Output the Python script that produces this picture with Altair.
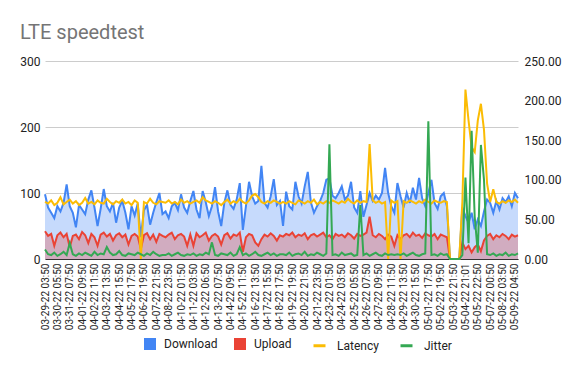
import json
import altair as alt
import pandas as pd

labels = [
    "03-29-22 03:50", "03-30-22 05:50", "03-31-22 07:50", "04-01-22 09:50", "04-02-22 11:50",
    "04-03-22 13:50", "04-04-22 15:50", "04-05-22 17:50", "04-06-22 19:50", "04-07-22 21:50",
    "04-08-22 23:50", "04-10-22 01:50", "04-11-22 03:50", "04-12-22 06:50", "04-13-22 07:50",
    "04-14-22 09:50", "04-15-22 11:50", "04-16-22 13:50", "04-17-22 15:50", "04-18-22 17:50",
    "04-19-22 19:50", "04-20-22 21:50", "04-21-22 23:50", "04-23-22 01:50", "04-24-22 03:50",
    "04-25-22 05:50", "04-26-22 07:50", "04-27-22 09:50", "04-28-22 11:50", "04-29-22 13:50",
    "04-30-22 15:50", "05-01-22 17:50", "05-02-22 19:50", "05-03-22 21:50", "05-04-22 21:01",
    "05-05-22 22:50", "05-07-22 00:50", "05-08-22 03:50", "05-09-22 04:50",
]

download = [
    98, 78, 70, 62, 80, 72, 85, 113, 80, 70, 48, 82, 75, 68, 90, 104, 78, 50, 76, 106,
    80, 72, 85, 55, 78, 88, 70, 45, 80, 66, 84, 33, 74, 82, 52, 70, 86, 100, 68,
    72, 62, 80, 85, 74, 98, 78, 70, 88, 103, 75, 62, 103, 86, 65, 80, 109, 72, 50, 85,
    104, 82, 76, 90, 115, 44, 80, 117, 95, 84, 88, 141, 85, 78, 95, 121, 82, 88,
    50, 102, 80, 75, 117, 95, 84, 110, 132, 86, 70, 80, 88, 100, 120, 122, 96, 92, 100,
    110, 90, 96, 117, 78, 70, 103, 64, 82, 100, 88, 96, 90, 100, 138, 100, 80, 70, 115,
    95, 78, 100, 85, 108, 90, 123, 92, 80, 100, 120, 85, 76, 95, 100, 80, 0, 0, 0, 0,
    78, 65, 55, 70, 45, 60, 50, 72, 90, 85, 70, 88, 75, 92, 86, 95, 80, 100, 92,
]

upload = [
    42, 35, 38, 20, 36, 40, 33, 38, 18, 35, 37, 30, 41, 36, 24, 38, 33, 20, 37, 40,
    34, 38, 28, 36, 39, 33, 37, 22, 35, 38, 34, 15, 36, 39, 30, 37, 26, 38, 35,
    33, 37, 40, 30, 36, 38, 34, 20, 37, 20, 39, 33, 36, 40, 28, 35, 38, 34, 22, 36,
    39, 31, 37, 35, 40, 11, 33, 38, 36, 25, 20, 30, 37, 34, 39, 35, 28, 36,
    34, 38, 36, 40, 33, 37, 35, 39, 30, 36, 38, 34, 37, 40, 33, 36, 30, 38, 35,
    37, 33, 39, 36, 31, 38, 35, 37, 40, 64, 36, 33, 38, 35, 30, 37, 34, 20, 36,
    30, 36, 38, 33, 40, 35, 37, 32, 39, 36, 34, 38, 30, 37, 35, 33, 0, 0, 0, 0,
    25, 15, 20, 10, 18, 22, 12, 28, 35, 38, 30, 36, 33, 38, 35, 30, 37, 34, 36,
]

latency = [
    72, 70, 74, 68, 71, 78, 69, 72, 75, 70, 73, 68, 71, 77, 70, 72, 69, 74, 71, 70,
    76, 72, 69, 73, 71, 75, 70, 72, 68, 74, 71, 0, 72, 70, 76, 71, 69, 73, 72,
    71, 74, 70, 72, 69, 75, 71, 73, 70, 72, 74, 71, 78, 74, 72, 70, 73, 71, 68, 72,
    75, 70, 73, 71, 76, 72, 70, 74, 80, 82, 78, 72, 70, 73, 71, 74, 72, 70,
    72, 70, 73, 71, 69, 74, 72, 70, 73, 71, 75, 69, 72, 70, 73, 71, 74, 72, 70,
    73, 71, 76, 72, 70, 74, 71, 73, 72, 145, 74, 71, 73, 70, 72, 0, 74, 71, 73,
    0, 73, 71, 74, 72, 70, 73, 71, 75, 72, 70, 74, 72, 71, 73, 72, 0, 0, 0, 0,
    72, 214, 175, 141, 135, 175, 196, 163, 95, 72, 88, 72, 70, 73, 71, 74, 72, 75, 71,
]

jitter = [
    12, 6, 5, 8, 4, 6, 9, 5, 20, 6, 4, 7, 5, 8, 6, 4, 9, 5, 7, 6,
    15, 8, 5, 6, 10, 5, 4, 7, 6, 5, 8, 6, 4, 7, 5, 9, 6, 4, 5,
    5, 7, 4, 6, 8, 5, 4, 6, 5, 7, 4, 6, 5, 8, 6, 21, 5, 4, 7, 6,
    5, 8, 4, 6, 15, 5, 7, 4, 6, 9, 5, 4, 6, 8, 5, 7, 4, 6,
    6, 5, 8, 4, 6, 7, 5, 9, 4, 6, 5, 8, 6, 4, 7, 145, 5, 6, 4,
    8, 5, 6, 7, 4, 5, 68, 5, 7, 4, 6, 8, 5, 4, 7, 5, 6, 5, 6,
    5, 7, 4, 6, 8, 5, 4, 6, 7, 174, 5, 6, 4, 7, 5, 6, 0, 0, 0, 0,
    5, 103, 20, 162, 53, 8, 144, 100, 6, 5, 7, 4, 6, 5, 8, 4, 6, 5, 7,
]

BLUE, RED, YELLOW, GREEN = "#4285f4", "#ea4335", "#fbbc04", "#34a853"
FONT = "Roboto"

n = len(download)
df = pd.DataFrame({
    "idx": list(range(n)),
    "Download": download,
    "Upload": upload,
    "Latency": latency,
    "Jitter": jitter,
})

label_expr = json.dumps(labels) + "[round(datum.value / 4)]"
x = alt.X(
    "idx:Q",
    title=None,
    scale=alt.Scale(domain=[0, n - 1], nice=False, zero=False),
    axis=alt.Axis(
        values=list(range(0, 4 * len(labels), 4)),
        labelExpr=label_expr,
        labelAngle=270,
        labelAlign="right",
        labelBaseline="middle",
        labelFontSize=10,
        labelColor="#222222",
        labelFont=FONT,
        labelPadding=4,
        labelOverlap=False,
        labelBound=False,
        ticks=False,
        grid=False,
        domain=True,
        domainColor="#333333",
    ),
)

left_axis = alt.Axis(
    values=[0, 100, 200, 300],
    grid=True,
    gridColor="#cccccc",
    domain=False,
    ticks=False,
    labelPadding=5,
    labelFontSize=12,
    labelColor="#222222",
    labelFont=FONT,
)
yL = alt.Y("value:Q", title=None, stack=None,
           scale=alt.Scale(domain=[0, 300], nice=False), axis=left_axis)

right_axis = alt.Axis(
    orient="right",
    values=[0, 50, 100, 150, 200, 250],
    format=".2f",
    grid=False,
    domain=False,
    ticks=False,
    labelPadding=6,
    labelFontSize=12,
    labelColor="#222222",
    labelFont=FONT,
)
yR = alt.Y("value:Q", title=None,
           scale=alt.Scale(domain=[0, 250], nice=False), axis=right_axis)

fill_enc = alt.Fill(
    "series:N",
    scale=alt.Scale(domain=["Download", "Upload"], range=[BLUE, RED]),
    legend=alt.Legend(
        orient="none", legendX=99, legendY=277, direction="horizontal", title=None,
        symbolType="square", symbolSize=144, symbolOpacity=1, symbolStrokeWidth=0,
        labelFontSize=12, labelColor="#222222", labelFont=FONT,
        columnPadding=16, labelOffset=8,
    ),
)
stroke_enc = alt.Stroke(
    "series:N",
    scale=alt.Scale(domain=["Latency", "Jitter"], range=[YELLOW, GREEN]),
    legend=alt.Legend(
        orient="none", legendX=267, legendY=277, direction="horizontal", title=None,
        symbolType="stroke", symbolSize=144, symbolStrokeWidth=3,
        labelFontSize=12, labelColor="#222222", labelFont=FONT,
        columnPadding=15, labelOffset=10,
    ),
)

base = alt.Chart(df)
du = base.transform_fold(["Download", "Upload"], as_=["series", "value"])
lj = base.transform_fold(["Latency", "Jitter"], as_=["series", "value"])

areaD = du.transform_filter("datum.series == 'Download'").mark_area(fillOpacity=0.3).encode(x=x, y=yL, fill=fill_enc)
areaU = du.transform_filter("datum.series == 'Upload'").mark_area(fillOpacity=0.3).encode(x=x, y=yL, fill=fill_enc)
lineD = du.transform_filter("datum.series == 'Download'").mark_line(color=BLUE, strokeWidth=2).encode(x=x, y=yL)
lineU = du.transform_filter("datum.series == 'Upload'").mark_line(color=RED, strokeWidth=2).encode(x=x, y=yL)

latL = lj.transform_filter("datum.series == 'Latency'").mark_line(strokeWidth=2).encode(x=x, y=yR, stroke=stroke_enc)
jitL = lj.transform_filter("datum.series == 'Jitter'").mark_line(strokeWidth=2).encode(x=x, y=yR, stroke=stroke_enc)

left = alt.layer(areaD, areaU, lineD, lineU)
right = alt.layer(latL, jitL)

chart = (
    alt.layer(left, right)
    .resolve_scale(y="independent")
    .properties(
        width=473,
        height=198,
        title=alt.TitleParams(
            "LTE speedtest", anchor="start", frame="group", dx=-25, offset=12,
            fontSize=20, font=FONT, fontWeight="normal", color="#757575",
        ),
        autosize=alt.AutoSizeParams(type="none"),
        padding={"left": 37, "top": 53, "right": 50, "bottom": 95},
    )
    .configure_view(stroke=None)
)

chart.save("out.html", embed_options={"renderer": "svg", "actions": False})
